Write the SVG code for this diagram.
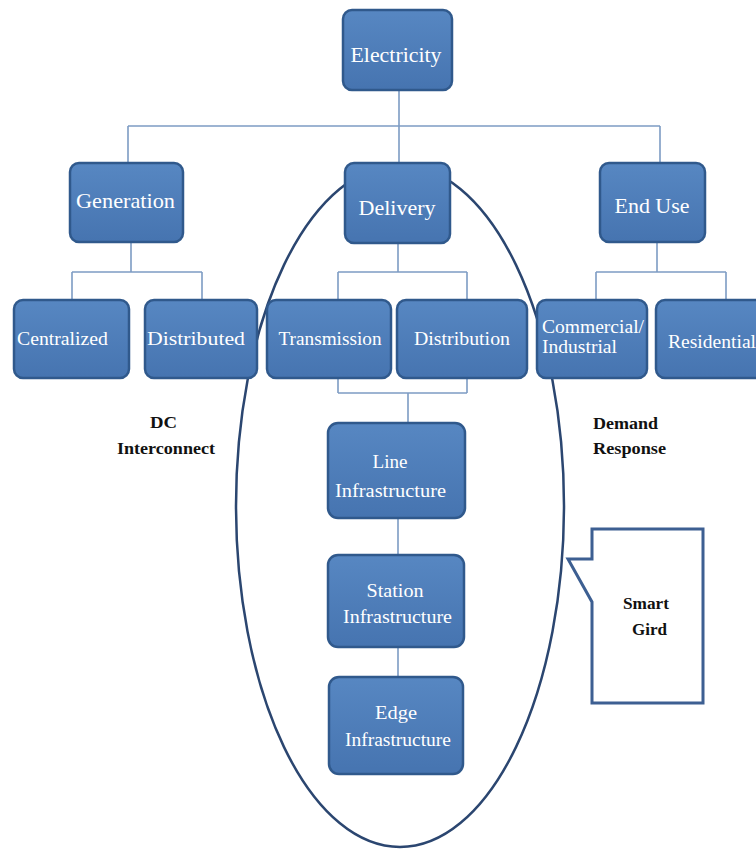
<svg xmlns="http://www.w3.org/2000/svg" width="756" height="851" viewBox="0 0 756 851">
<defs>
<linearGradient id="bf" x1="0" y1="0" x2="0" y2="1">
<stop offset="0" stop-color="#5787c2"/>
<stop offset="1" stop-color="#4674b0"/>
</linearGradient>
<style>
.box{fill:url(#bf);stroke:#30598c;stroke-width:2.5}
.t1{font-family:"Liberation Serif","Times New Roman",serif;font-size:21px;fill:#ffffff;text-anchor:middle}
.t2{font-family:"Liberation Serif","Times New Roman",serif;font-size:19px;fill:#ffffff;text-anchor:middle}
.t3{font-family:"Liberation Serif","Times New Roman",serif;font-size:18.5px;fill:#ffffff;text-anchor:middle}
.tl{font-family:"Liberation Serif","Times New Roman",serif;font-size:19px;fill:#ffffff}
.lb{font-family:"Liberation Serif","Times New Roman",serif;font-size:17px;font-weight:bold;fill:#111111;text-anchor:middle}
.cn{fill:none;stroke:#7d9cc4;stroke-width:1.6}
</style>
</defs>
<rect width="756" height="851" fill="#ffffff"/>
<ellipse id="delivery-group" cx="400" cy="506" rx="164" ry="341" fill="none" stroke="#2b4670" stroke-width="2.5"/>
<g id="connectors">
<path class="cn" d="M399,90 V126 M128,126 H660 M128,126 V163 M399,126 V163 M660,126 V163"/>
<path class="cn" d="M131,242 V272 M72,272 H202 M72,272 V300 M202,272 V300"/>
<path class="cn" d="M398,243 V272 M338,272 H467 M338,272 V300 M467,272 V300"/>
<path class="cn" d="M657,242 V272 M596,272 H726 M596,272 V300 M726,272 V300"/>
<path class="cn" d="M338,378 V393 M467,378 V393 M338,393 H467 M408,393 V423"/>
<path class="cn" d="M398,518 V555 M398,647 V677"/>
</g>
<g id="electricity"><rect class="box" x="343" y="10" width="109" height="80" rx="9"/><text class="t1" x="396" y="62" textLength="91" lengthAdjust="spacingAndGlyphs">Electricity</text></g>
<g id="generation"><rect class="box" x="70" y="163" width="113" height="79" rx="9"/><text class="t1" x="125.5" y="208" textLength="99" lengthAdjust="spacingAndGlyphs">Generation</text></g>
<g id="delivery"><rect class="box" x="345" y="163" width="105" height="80" rx="9"/><text class="t1" x="397" y="215" textLength="77" lengthAdjust="spacingAndGlyphs">Delivery</text></g>
<g id="end-use"><rect class="box" x="600" y="163" width="105" height="79" rx="9"/><text class="t1" x="652" y="213" textLength="75" lengthAdjust="spacingAndGlyphs">End Use</text></g>
<g id="centralized"><rect class="box" x="14" y="300" width="115" height="78" rx="9"/><text class="t2" x="62.5" y="345" textLength="91" lengthAdjust="spacingAndGlyphs">Centralized</text></g>
<g id="distributed"><rect class="box" x="145" y="300" width="112" height="78" rx="9"/><text class="t2" x="196" y="345" textLength="98" lengthAdjust="spacingAndGlyphs">Distributed</text></g>
<g id="transmission"><rect class="box" x="267" y="300" width="124" height="78" rx="9"/><text class="t2" x="330" y="345" textLength="103" lengthAdjust="spacingAndGlyphs">Transmission</text></g>
<g id="distribution"><rect class="box" x="397" y="300" width="130" height="78" rx="9"/><text class="t2" x="462" y="345" textLength="96" lengthAdjust="spacingAndGlyphs">Distribution</text></g>
<g id="commercial-industrial"><rect class="box" x="537" y="300" width="110" height="78" rx="9"/><text class="tl" x="542" y="333" textLength="102" lengthAdjust="spacingAndGlyphs">Commercial/</text><text class="tl" x="542" y="353" textLength="75" lengthAdjust="spacingAndGlyphs">Industrial</text></g>
<g id="residential"><rect class="box" x="656" y="300" width="114" height="78" rx="9"/><text class="tl" x="668" y="348" textLength="88" lengthAdjust="spacingAndGlyphs">Residential</text></g>
<g id="line-infrastructure"><rect class="box" x="328" y="423" width="137" height="95" rx="10"/><text class="t3" x="390" y="468" textLength="35" lengthAdjust="spacingAndGlyphs">Line</text><text class="t3" x="390.5" y="497" textLength="111" lengthAdjust="spacingAndGlyphs">Infrastructure</text></g>
<g id="station-infrastructure"><rect class="box" x="328" y="555" width="136" height="92" rx="10"/><text class="t3" x="395" y="597" textLength="57" lengthAdjust="spacingAndGlyphs">Station</text><text class="t3" x="397.5" y="623" textLength="109" lengthAdjust="spacingAndGlyphs">Infrastructure</text></g>
<g id="edge-infrastructure"><rect class="box" x="329" y="677" width="134" height="97" rx="10"/><text class="t3" x="396" y="719" textLength="42" lengthAdjust="spacingAndGlyphs">Edge</text><text class="t3" x="398" y="746" textLength="106" lengthAdjust="spacingAndGlyphs">Infrastructure</text></g>
<g id="dc-interconnect"><text class="lb" x="163.5" y="428" textLength="27" lengthAdjust="spacingAndGlyphs">DC</text><text class="lb" x="166" y="454" textLength="98" lengthAdjust="spacingAndGlyphs">Interconnect</text></g>
<g id="demand-response"><text class="lb" x="625.5" y="429" textLength="65" lengthAdjust="spacingAndGlyphs">Demand</text><text class="lb" x="629.5" y="454" textLength="73" lengthAdjust="spacingAndGlyphs">Response</text></g>
<g id="smart-grid"><path d="M592,529 H703 V703 H592 V602 L568,559 H592 Z" fill="#ffffff" stroke="#3d5f92" stroke-width="3" stroke-linejoin="miter"/><text class="lb" x="646" y="609" textLength="46" lengthAdjust="spacingAndGlyphs">Smart</text><text class="lb" x="649.5" y="635" textLength="35" lengthAdjust="spacingAndGlyphs">Gird</text></g>
</svg>
